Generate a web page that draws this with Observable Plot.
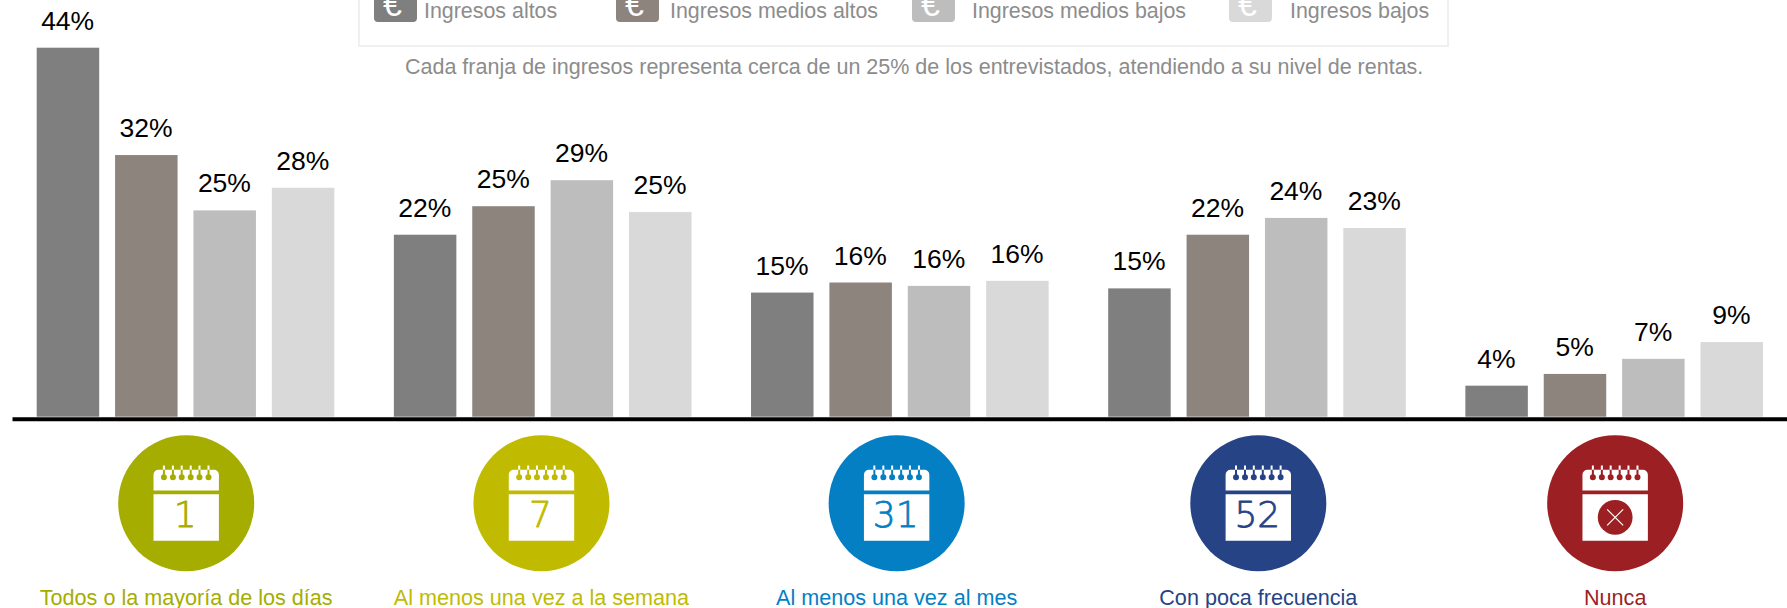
<!DOCTYPE html>
<html lang="es">
<head>
<meta charset="utf-8">
<script src="https://cdn.jsdelivr.net/npm/d3@7"></script>
<script src="https://cdn.jsdelivr.net/npm/@observablehq/plot@0.6"></script>
<style>
  html, body { margin: 0; padding: 0; background: #fff; overflow: hidden; }
  #chart { position: relative; width: 1787px; height: 608px; font-family: "Liberation Sans", Arial, sans-serif; }
  #chart svg { display: block; }
  .box { position: absolute; left: 358px; top: -10px; width: 1087px; height: 53px; border: 2px solid #f0f0f0; }
  .swatch { position: absolute; top: -8px; width: 43px; height: 30px; border-radius: 4px; color: #fff; font-size: 34px; line-height: 1; text-align: center; }
  .swatch span { position: absolute; left: 0; right: 6px; bottom: 1px; }
  .leg { position: absolute; top: -1px; font-size: 21.4px; line-height: 24px; color: #8c8c8c; white-space: nowrap; }
  .sub { position: absolute; left: 405px; top: 55px; font-size: 21.5px; line-height: 24px; color: #8c8c8c; white-space: nowrap; }
</style>
</head>
<body>
<div id="chart"></div>
<script>
const frequencies = ["Todos o la mayoría de los días", "Al menos una vez a la semana", "Al menos una vez al mes", "Con poca frecuencia", "Nunca"];
const incomes = ["Ingresos altos", "Ingresos medios altos", "Ingresos medios bajos", "Ingresos bajos"];
const incomeColors = ["#7f7f7f", "#8d847e", "#bdbdbd", "#d9d9d9"];
const frequencyColors = ["#a5ad00", "#c0bb00", "#047fc4", "#264385", "#9c1f23"];
const calendarNumbers = ["1", "7", "31", "52", ""];
const subtitle = "Cada franja de ingresos representa cerca de un 25% de los entrevistados, atendiendo a su nivel de rentas.";

const altos       = [44.0, 21.7, 14.8, 15.3, 3.7];
const mediosAltos = [31.2, 25.1, 16.0, 21.7, 5.1];
const mediosBajos = [24.6, 28.2, 15.6, 23.7, 6.9];
const bajos       = [27.3, 24.4, 16.2, 22.5, 8.9];
const labelsAltos       = ["44%", "22%", "15%", "15%", "4%"];
const labelsMediosAltos = ["32%", "25%", "16%", "22%", "5%"];
const labelsMediosBajos = ["25%", "29%", "16%", "24%", "7%"];
const labelsBajos       = ["28%", "25%", "16%", "23%", "9%"];

const series = [altos, mediosAltos, mediosBajos, bajos];
const seriesLabels = [labelsAltos, labelsMediosAltos, labelsMediosBajos, labelsBajos];
const rows = frequencies.flatMap((frequency, f) =>
  incomes.map((income, s) => ({frequency, income, value: series[s][f], label: seriesLabels[s][f]})));

// Icon shapes, drawn around the centre of the coloured disc.
const ringX = [-22.3, -13.3, -4.5, 4.5, 13.3, 22.3];
const calendarSheet = {draw(c) {
  const l = -32.7, r = 32.7, t = -33.5, m = -12.8, k = 5;
  c.moveTo(l, m); c.lineTo(l, t + k); c.arcTo(l, t, l + k, t, k);
  c.lineTo(r - k, t); c.arcTo(r, t, r, t + k, k); c.lineTo(r, m); c.closePath();
  c.rect(l, -9.1, r - l, 46.6);
  for (const x of ringX) c.rect(x - 1, -37.8, 2, 5);
}};
const calendarRings = {draw(c) {
  for (const x of ringX) {
    c.rect(x - 1, -33.5, 2, 7);
    c.moveTo(x + 3, -26); c.arc(x, -26, 3, 0, 2 * Math.PI);
  }
}};
const thinCross = {draw(c) {
  c.moveTo(-8, -8); c.lineTo(8, 8); c.moveTo(8, -8); c.lineTo(-8, 8);
}};

const iconCentreDy = 86.1;
const iconDx = [0.2, -1.7, -3.7, 0.8, 0.5];

function iconMarks(frequency, i) {
  const at = {fx: d => d, frameAnchor: "bottom", dx: iconDx[i]};
  const color = frequencyColors[i];
  const marks = [
    Plot.dot([frequency], {...at, dy: iconCentreDy, r: 68, fill: color}),
    Plot.dot([frequency], {...at, dy: iconCentreDy, symbol: calendarSheet, fill: "#fff", stroke: "none"}),
    Plot.dot([frequency], {...at, dy: iconCentreDy, symbol: calendarRings, fill: color, stroke: "none"}),
    Plot.text([frequency], {...at, dy: 181, lineAnchor: "middle", text: d => d, fill: color, fontSize: 21.6})
  ];
  if (calendarNumbers[i]) {
    marks.push(Plot.text([frequency], {...at, dx: iconDx[i] - 1, dy: iconCentreDy + 12.2, lineAnchor: "middle",
      text: () => calendarNumbers[i], fill: color, stroke: color, strokeWidth: 0.8, fontSize: 36, fontWeight: 200, fontFamily: "DejaVu Sans"}));
  } else {
    marks.push(Plot.dot([frequency], {...at, dy: iconCentreDy + 14, r: 17.4, fill: color}));
    marks.push(Plot.dot([frequency], {...at, dy: iconCentreDy + 14, symbol: thinCross, stroke: "#fff", strokeWidth: 1.2}));
  }
  return marks;
}

const chart = Plot.plot({
  width: 1787,
  height: 608,
  marginTop: 47.7,
  marginBottom: 191.3,
  marginLeft: 12,
  marginRight: 0,
  style: {fontFamily: "'Liberation Sans', Arial, sans-serif", background: "#fff", overflow: "visible"},
  fx: {domain: frequencies, paddingInner: 0.1667, paddingOuter: 0.0682, align: 0.507, round: false, axis: null, label: null},
  x: {domain: incomes, paddingInner: 0.2027, paddingOuter: 0, round: false, axis: null, label: null},
  y: {domain: [0, 44], axis: null, label: null},
  color: {domain: incomes, range: incomeColors},
  marks: [
    Plot.barY(rows, {fx: "frequency", x: "income", y: "value", fill: "income"}),
    Plot.text(rows, {fx: "frequency", x: "income", y: "value", text: "label", dx: -0.8, dy: -27, lineAnchor: "middle", fontSize: 26.5, fill: "#000"}),
    Plot.frame({anchor: "bottom", facet: "super", stroke: "#000", strokeWidth: 4, dy: 2, clip: false, insetLeft: -22.7, insetRight: -24}),
    ...frequencies.flatMap(iconMarks)
  ]
});

const root = document.getElementById("chart");
root.appendChild(chart);

const box = document.createElement("div");
box.className = "box";
root.appendChild(box);
const swatchLeft = [374, 616, 912, 1229];
const textLeft = [424, 670, 972, 1290];
incomes.forEach((name, i) => {
  const sw = document.createElement("div");
  sw.className = "swatch";
  sw.style.left = swatchLeft[i] + "px";
  sw.style.background = incomeColors[i];
  sw.innerHTML = "<span>€</span>";
  root.appendChild(sw);
  const t = document.createElement("div");
  t.className = "leg";
  t.style.left = textLeft[i] + "px";
  t.textContent = name;
  root.appendChild(t);
});
const sub = document.createElement("div");
sub.className = "sub";
sub.textContent = subtitle;
root.appendChild(sub);
</script>
</body>
</html>
